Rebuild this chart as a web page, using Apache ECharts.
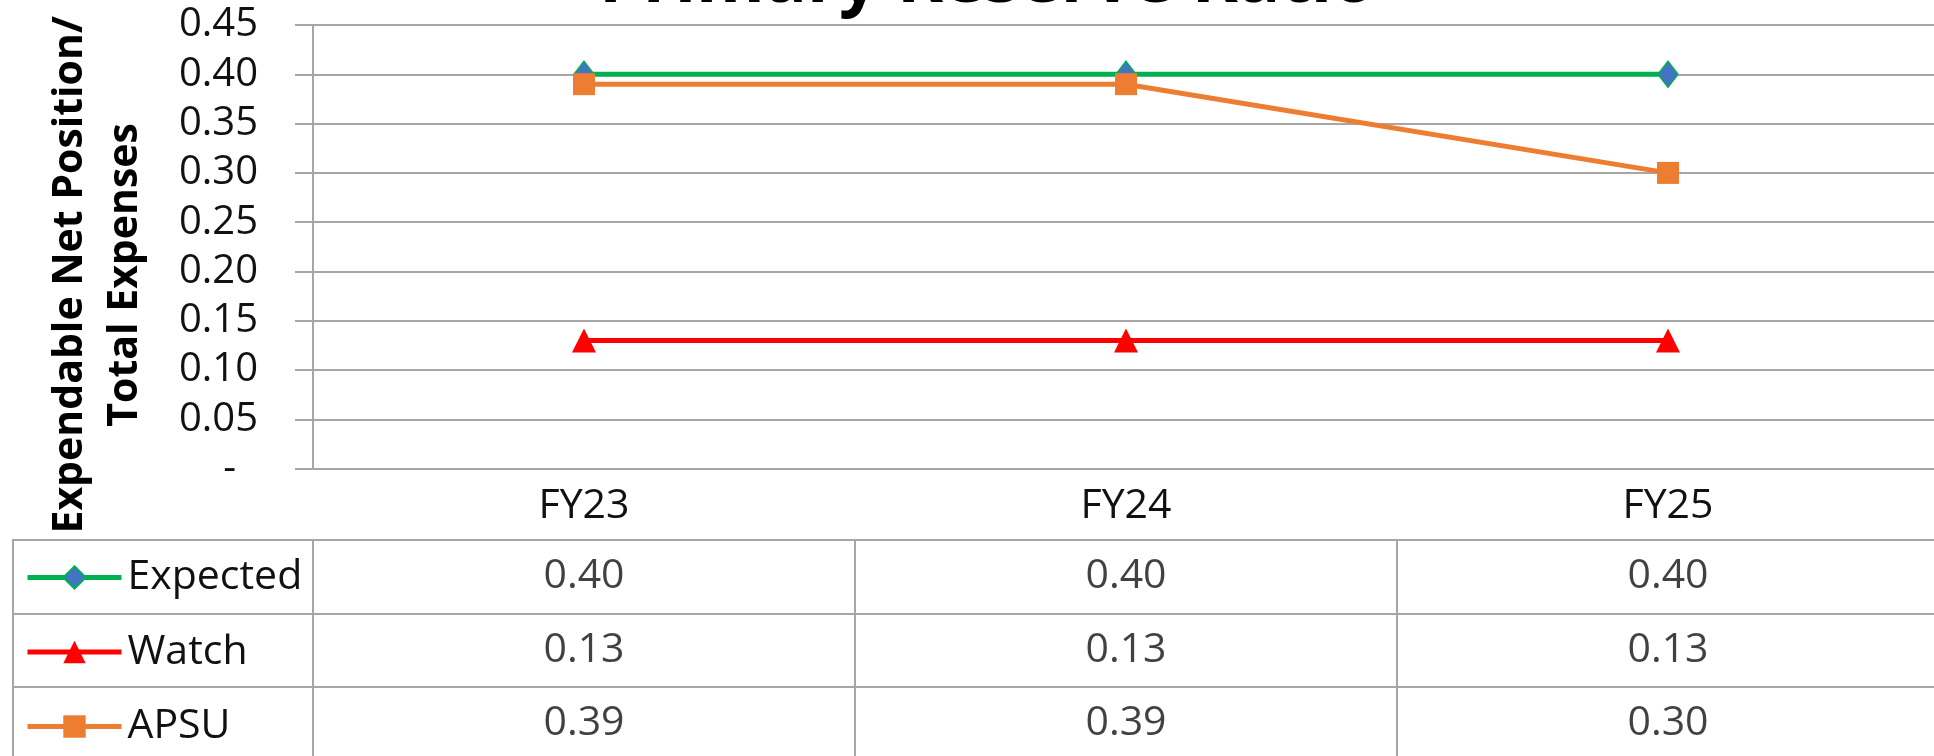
<!DOCTYPE html>
<html lang="en">
<head>
<meta charset="utf-8">
<title>Primary Reserve Ratio</title>
<script src="https://cdn.jsdelivr.net/npm/echarts@6/dist/echarts.min.js"></script>
<style>
    html, body { margin: 0; padding: 0; background: #fff; }
    #chart { width: 1934px; height: 756px; }
</style>
</head>
<body>
<div id="chart"></div>
<script type="text/javascript">
// data
var years = ['FY23', 'FY24', 'FY25'];
var rowNames = ['Expected', 'Watch', 'APSU'];
var expected = [0.40, 0.40, 0.40];
var watch = [0.13, 0.13, 0.13];
var apsu = [0.39, 0.39, 0.30];
var rowValues = [expected, watch, apsu];

var gridColor = '#a6a6a6';
var textColor = '#111';
var font = 'Open Sans';
var fontSize = 41;

// table cells: [year, row, value]
var cells = [];
rowNames.forEach(function (r, j) {
    years.forEach(function (y, i) {
        cells.push([y, r, rowValues[j][i]]);
    });
});

var dom = document.getElementById('chart');
var myChart = echarts.init(dom);

var option = {
    animation: false,
    backgroundColor: '#fff',
    textStyle: { fontFamily: font },
    title: {
        text: 'Primary Reserve Ratio',
        left: 594,
        top: -58,
        textStyle: { fontFamily: font, fontSize: 70, fontWeight: 'bold', color: '#000', lineHeight: 70 }
    },
    legend: {
        orient: 'vertical',
        left: 25,
        top: 557,
        padding: 0,
        itemWidth: 94,
        itemHeight: 28,
        itemGap: 33.5,
        selectedMode: false,
        data: rowNames,
        lineStyle: { width: 5 },
        textStyle: { fontFamily: font, fontSize: fontSize, lineHeight: 40, color: textColor, padding: [0, 0, 0, 1] }
    },
    grid: [
        { left: 313, top: 25, width: 1626, height: 443.7, outerBoundsMode: 'none', containLabel: false },
        { left: 313, top: 540, width: 1626, height: 220, show: true, borderColor: gridColor, borderWidth: 2, outerBoundsMode: 'none' },
        { left: 13, top: 540, width: 300, height: 220, show: true, borderColor: gridColor, borderWidth: 2, outerBoundsMode: 'none' }
    ],
    xAxis: [
        {
            gridIndex: 0,
            type: 'category',
            data: years,
            boundaryGap: true,
            axisLine: { lineStyle: { color: gridColor, width: 2 } },
            axisTick: { length: 71.3, lineStyle: { color: gridColor, width: 2 } },
            axisLabel: { margin: 17, fontFamily: font, fontSize: fontSize, lineHeight: 42, color: textColor }
        },
        {
            gridIndex: 1,
            type: 'category',
            data: years,
            axisLine: { show: false },
            axisTick: { show: false },
            axisLabel: { show: false },
            splitLine: { show: true, lineStyle: { color: gridColor, width: 2 } }
        },
        { gridIndex: 2, type: 'value', show: false }
    ],
    yAxis: [
        {
            gridIndex: 0,
            type: 'value',
            min: 0,
            max: 0.45,
            interval: 0.05,
            name: 'Expendable Net Position/\nTotal Expenses',
            nameLocation: 'middle',
            nameGap: 160,
            nameTextStyle: {
                fontFamily: font, fontSize: 41, fontWeight: 'bold', lineHeight: 55,
                color: '#000', padding: [0, 56, 0, 0]
            },
            axisLine: { show: true, lineStyle: { color: gridColor, width: 2 } },
            axisTick: { show: true, length: 18, lineStyle: { color: gridColor, width: 2 } },
            splitLine: { lineStyle: { color: gridColor, width: 2 } },
            axisLabel: {
                margin: 55,
                formatter: function (v) {
                    return Math.abs(v) < 1e-9 ? '{d|-}' : '{n|' + v.toFixed(2) + '}';
                },
                rich: {
                    n: { fontFamily: font, fontSize: 40, color: textColor },
                    d: { fontFamily: font, fontSize: 40, color: textColor, padding: [0, 22, 0, 0] }
                }
            }
        },
        {
            gridIndex: 1,
            type: 'category',
            data: rowNames,
            inverse: true,
            axisLine: { show: false },
            axisTick: { show: false },
            axisLabel: { show: false },
            splitLine: { show: true, lineStyle: { color: gridColor, width: 2 } }
        },
        {
            gridIndex: 2,
            type: 'category',
            data: rowNames,
            inverse: true,
            axisLine: { show: false },
            axisTick: { show: false },
            axisLabel: { show: false },
            splitLine: { show: true, lineStyle: { color: gridColor, width: 2 } }
        }
    ],
    series: [
        {
            name: 'Expected',
            type: 'line',
            xAxisIndex: 0, yAxisIndex: 0,
            data: expected,
            symbol: 'diamond',
            symbolSize: [20, 26],
            lineStyle: { color: '#00b050', width: 5 },
            itemStyle: { color: '#4472c4', borderColor: '#00b050', borderWidth: 1.5 }
        },
        {
            name: 'Watch',
            type: 'line',
            xAxisIndex: 0, yAxisIndex: 0,
            data: watch,
            symbol: 'triangle',
            symbolSize: 24,
            lineStyle: { color: '#ff0000', width: 5 },
            itemStyle: { color: '#ff0000' }
        },
        {
            name: 'APSU',
            type: 'line',
            xAxisIndex: 0, yAxisIndex: 0,
            data: apsu,
            symbol: 'rect',
            symbolSize: 22,
            lineStyle: { color: '#ed7d31', width: 5 },
            itemStyle: { color: '#ed7d31' }
        },
        {
            name: 'table',
            type: 'scatter',
            xAxisIndex: 1, yAxisIndex: 1,
            data: cells,
            symbolSize: 1,
            itemStyle: { color: 'rgba(0,0,0,0)' },
            silent: true,
            label: {
                show: true,
                position: 'inside',
                fontFamily: font,
                fontSize: fontSize,
                color: textColor,
                formatter: function (p) { return p.value[2].toFixed(2); }
            }
        }
    ]
};

myChart.setOption(option);
</script>
</body>
</html>
